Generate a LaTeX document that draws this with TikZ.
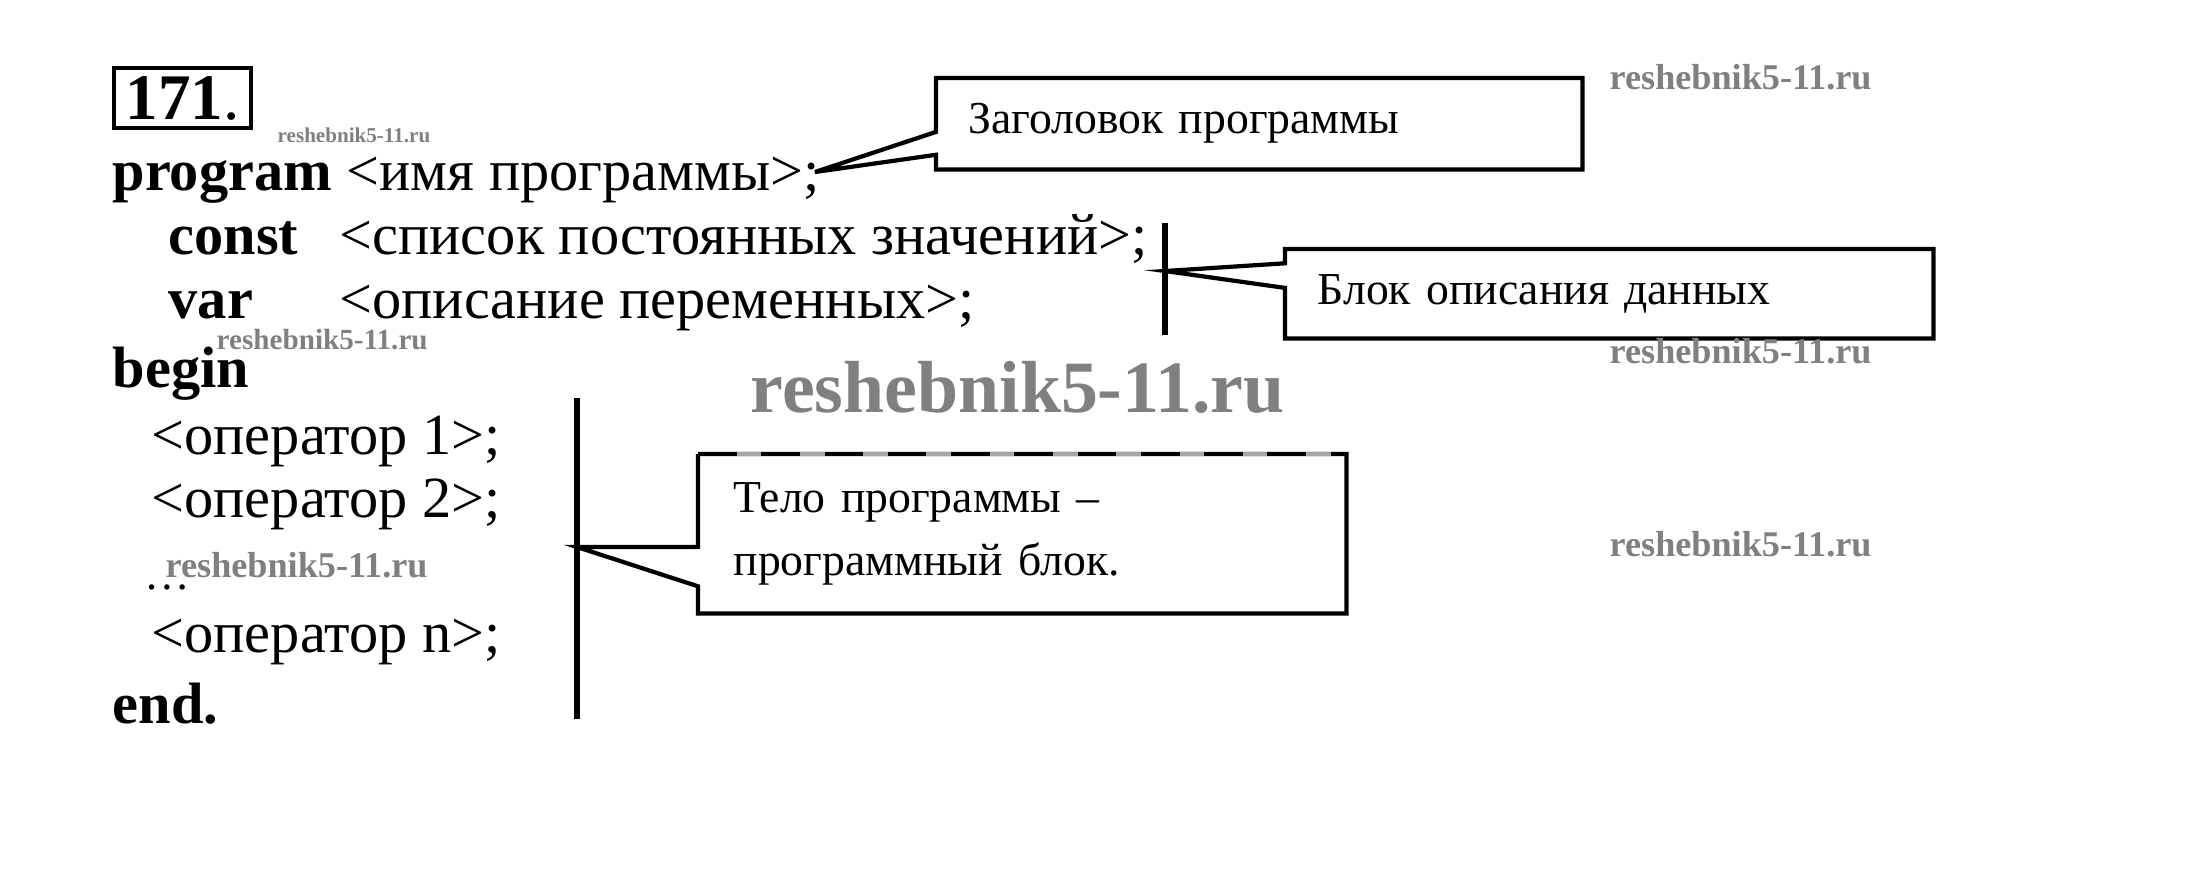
\documentclass[tikz,border=0pt]{standalone}
\usepackage{fontspec}
\setmainfont{Liberation Serif}
\usetikzlibrary{%
  calc%
}
\tikzset{
  codeline/.style={anchor=base west,inner sep=0pt,font=\fontsize{16.6}{20}\selectfont},
  calloutbox/.style={anchor=north west,inner xsep=0.32cm,inner ysep=0pt,align=left,
    font=\fontsize{13}{18}\selectfont},
  wmark/.style={anchor=base west,inner sep=0pt,text=black!50,
    font=\bfseries\fontsize{#1}{#1}\selectfont},
  outline/.style={line width=1.2pt},
  bracebar/.style={line width=1.6pt}
}

\begin{document}
\begin{tikzpicture}
    \useasboundingbox (0,0) rectangle (21.9,-8.74);
    % task number
    \node[draw,outline,anchor=north west,minimum width=1.37cm,minimum height=0.6cm,
      inner sep=0pt,font=\fontsize{18.5}{20}\selectfont] (num) at (1.12,-0.66)
      {\textbf{171}.};
    % program text
    \node[codeline] (prog) at (1.12,-1.90) {\textbf{program} <имя программы>;};
    \node[codeline] (constkw) at (1.68,-2.54) {\textbf{const}};
    \node[codeline] (constlist) at (3.39,-2.54) {<список постоянных значений>;};
    \node[codeline] (varkw) at (1.68,-3.18) {\textbf{var}};
    \node[codeline] (varlist) at (3.39,-3.18) {<описание переменных>;};
    \node[codeline] (beg) at (1.12,-3.87) {\textbf{begin}};
    \node[codeline] (opone) at (1.51,-4.54) {<оператор 1>;};
    \node[codeline] (optwo) at (1.51,-5.17) {<оператор 2>;};
    \node[codeline,font=\fontsize{13}{15}\selectfont] (dots) at (1.44,-5.89) {…};
    \node[codeline] (opn) at (1.51,-6.52) {<оператор n>;};
    \node[codeline] (fin) at (1.12,-7.23) {\textbf{end.}};
    % callouts
    \node[calloutbox,text width=5.81cm,minimum height=0.9cm] (hdr) at (9.36,-0.78)
      {Заголовок программы};
    \node[calloutbox,text width=5.83cm,minimum height=0.88cm] (data) at (12.85,-2.49)
      {Блок описания данных};
    \node[calloutbox,inner xsep=0.35cm,text width=5.77cm,minimum height=1.58cm] (body)
      at (6.98,-4.54) {Тело программы –\\программный блок.};
    \coordinate (hdrtip) at (8.15,-1.72);
    \coordinate (datatop) at (11.65,-2.23);
    \coordinate (databot) at (11.65,-3.35);
    \coordinate (datatip) at (11.65,-2.71);
    \coordinate (bodytop) at (5.77,-3.98);
    \coordinate (bodybot) at (5.77,-7.19);
    \coordinate (bodytip) at (5.77,-5.47);
    \draw[outline] (hdr.north west) -- (hdr.north east) -- (hdr.south east)
      -- (hdr.south west) -- ($(hdr.north west)!0.84!(hdr.south west)$) -- (hdrtip)
      -- ($(hdr.north west)!0.59!(hdr.south west)$) -- cycle;
    \draw[bracebar] (datatop) -- (databot);
    \draw[outline] (data.north west) -- (data.north east) -- (data.south east)
      -- (data.south west) -- ($(data.north west)!0.435!(data.south west)$) -- (datatip)
      -- ($(data.north west)!0.16!(data.south west)$) -- cycle;
    \draw[bracebar] (bodytop) -- (bodybot);
    \draw[outline] (body.north west) -- (body.north east) -- (body.south east)
      -- (body.south west) -- ($(body.north west)!0.83!(body.south west)$) -- (bodytip)
      -- ($(body.north west)!0.583!(body.south west)$) -- (body.north west);
    \draw[outline,black!35] (body.north west) -- (body.north east);
    \draw[outline,dash pattern=on 11pt off 7pt] (body.north west) -- (body.north east);
    % site marks
    \node[wmark=6] (wmone) at (2.77,-1.42) {reshebnik5-11.ru};
    \node[wmark=10.3] (wmtwo) at (16.09,-0.89) {reshebnik5-11.ru};
    \node[wmark=8.3] (wmthree) at (2.16,-3.49) {reshebnik5-11.ru};
    \node[wmark=21] (wmfour) at (7.50,-4.12) {reshebnik5-11.ru};
    \node[wmark=10.3] (wmfive) at (16.09,-3.63) {reshebnik5-11.ru};
    \node[wmark=10.3] (wmsix) at (1.65,-5.77) {reshebnik5-11.ru};
    \node[wmark=10.3] (wmseven) at (16.09,-5.56) {reshebnik5-11.ru};
\end{tikzpicture}
\end{document}
